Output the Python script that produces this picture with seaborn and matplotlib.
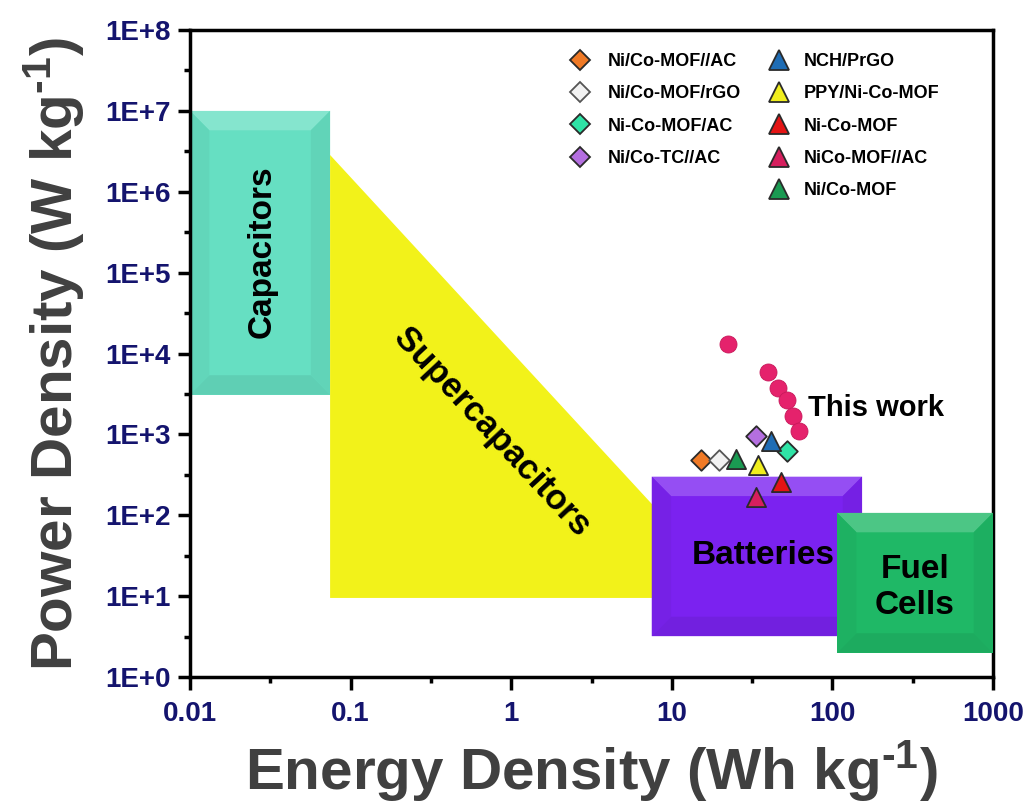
import numpy as np
import pandas as pd
import matplotlib.pyplot as plt
import seaborn as sns
from matplotlib.lines import Line2D
from matplotlib.ticker import FixedLocator, NullFormatter
from matplotlib.colors import to_rgb

# Regions on the Ragone plot (energy in Wh/kg, power in W/kg)
cap_x = [0.01, 0.0745]
cap_y = [3.1e3, 1.0e7]
sc_x = [0.0745, 26.0, 0.0745]
sc_y = [2.85e6, 9.5, 9.5]
bat_x = [7.5, 153.0]
bat_y = [3.2, 300.0]
fc_x = [107.0, 1000.0]
fc_y = [2.0, 107.0]

# Reference devices
ref_names = ['Ni/Co-MOF//AC', 'Ni/Co-MOF/rGO', 'Ni-Co-MOF/AC', 'Ni/Co-TC//AC',
             'NCH/PrGO', 'PPY/Ni-Co-MOF', 'Ni-Co-MOF', 'NiCo-MOF//AC', 'Ni/Co-MOF']
ref_energy = [15.1, 19.7, 51.9, 33.3, 41.5, 34.3, 47.6, 33.4, 25.0]
ref_power = [484, 484, 625, 957, 838, 420, 259, 170, 498]
ref_markers = ['D', 'D', 'D', 'D', '^', '^', '^', '^', '^']
ref_colors = ['#f07a26', '#f2f2f2', '#2fe3a6', '#b46fe0',
              '#1f6db5', '#f0ee1e', '#e41414', '#d61f5e', '#1a9a52']

# This work
work_energy = [22.5, 39.9, 46.0, 51.9, 57.1, 61.9]
work_power = [13150, 5870, 3790, 2670, 1710, 1115]

sns.set_style('white')
plt.rcParams['font.family'] = ['Liberation Sans', 'DejaVu Sans']
plt.rcParams['font.weight'] = 'bold'
plt.rcParams['text.color'] = 'black'
plt.rcParams['mathtext.fontset'] = 'custom'
plt.rcParams['mathtext.bf'] = 'Liberation Sans:bold'
plt.rcParams['mathtext.rm'] = 'Liberation Sans:bold'
plt.rcParams['mathtext.default'] = 'bf'


def mix(c, other, t):
    a = np.array(to_rgb(c))
    b = np.array(to_rgb(other))
    return tuple(a * (1 - t) + b * t)


def bevel_box(ax, xs, ys, color, z):
    x0, x1 = xs
    y0, y1 = ys
    ax.fill([x0, x1, x1, x0], [y0, y0, y1, y1], color=color, lw=0, zorder=z)
    bx, by = 10 ** 0.12, 10 ** 0.24
    ix0, ix1, iy0, iy1 = x0 * bx, x1 / bx, y0 * by, y1 / by
    ax.fill([x0, x1, ix1, ix0], [y1, y1, iy1, iy1], color=mix(color, 'white', 0.2), lw=0, zorder=z)
    ax.fill([x0, x1, ix1, ix0], [y0, y0, iy0, iy0], color=mix(color, 'black', 0.07), lw=0, zorder=z)
    ax.fill([x0, ix0, ix0, x0], [y0, iy0, iy1, y1], color=mix(color, 'black', 0.04), lw=0, zorder=z)
    ax.fill([x1, ix1, ix1, x1], [y0, iy0, iy1, y1], color=mix(color, 'black', 0.05), lw=0, zorder=z)


fig = plt.figure(figsize=(10.3, 8.01), dpi=100)
ax = fig.add_axes([0.1845, 0.1548, 0.7796, 0.8077])
ax.set_xscale('log')
ax.set_yscale('log')

bevel_box(ax, cap_x, cap_y, '#66dfc2', 1)
ax.fill(sc_x, sc_y, color='#f2f21a', lw=0, zorder=1)
bevel_box(ax, bat_x, bat_y, '#7b22f0', 2)
bevel_box(ax, fc_x, fc_y, '#1fb866', 3)

ax.text(0.0281, 1.8e5, 'Capacitors', rotation=90, ha='center', va='center',
        fontsize=24, fontweight='bold', color='black', zorder=5)
ax.text(0.76, 1075, 'Supercapacitors', rotation=-47, ha='center', va='center',
        fontsize=25, fontweight='bold', color='black', zorder=5, rotation_mode='anchor')
ax.text(37, 31.6, 'Batteries', ha='center', va='center', fontsize=24,
        fontweight='bold', color='black', zorder=5)
ax.text(327, 12.7, 'Fuel\nCells', ha='center', va='center', fontsize=24,
        fontweight='bold', color='black', zorder=5, linespacing=1.2)
ax.text(70.5, 2130, 'This work', ha='left', va='center', fontsize=21,
        fontweight='bold', color='black', zorder=5)

refs = pd.DataFrame({'energy': ref_energy, 'power': ref_power, 'name': ref_names})
for i, row in refs.iterrows():
    m = ref_markers[i]
    sns.scatterplot(x=[row['energy']], y=[row['power']], ax=ax, marker=m,
                    s=190 if m == '^' else 110, color=ref_colors[i],
                    edgecolor='#2a2a2a' if i != 1 else '#555555', linewidth=1.3,
                    zorder=6, legend=False)

work = pd.DataFrame({'energy': work_energy, 'power': work_power})
sns.scatterplot(data=work, x='energy', y='power', ax=ax, marker='o', s=150,
                color='#e5226c', edgecolor='#c8185a', linewidth=0.6, zorder=7,
                legend=False)

ax.set_xlim(0.01, 1000)
ax.set_ylim(1, 1e8)
ax.xaxis.set_major_locator(FixedLocator([10.0 ** k for k in range(-2, 4)]))
ax.xaxis.set_minor_locator(FixedLocator([10.0 ** (k + 0.5) for k in range(-2, 3)]))
ax.yaxis.set_major_locator(FixedLocator([10.0 ** k for k in range(0, 9)]))
ax.yaxis.set_minor_locator(FixedLocator([10.0 ** (k + 0.5) for k in range(0, 8)]))
ax.xaxis.set_minor_formatter(NullFormatter())
ax.yaxis.set_minor_formatter(NullFormatter())
ax.set_xticklabels(['0.01', '0.1', '1', '10', '100', '1000'])
ax.set_yticklabels(['1E+%d' % k for k in range(0, 9)])

ax.tick_params(which='both', direction='out', width=2.5, colors='black',
               top=False, right=False, left=True, bottom=True)
ax.tick_params(which='major', length=9, labelsize=20, labelcolor='#14146e')
ax.tick_params(axis='x', which='major', pad=8)
ax.tick_params(axis='y', which='major', pad=5)
ax.tick_params(which='minor', length=4)
for lab in ax.get_xticklabels() + ax.get_yticklabels():
    lab.set_fontweight('bold')
for sp in ax.spines.values():
    sp.set_linewidth(2.5)
    sp.set_color('black')
    sp.set_visible(True)

ax.set_xlabel(r'Energy Density (Wh kg$^{\text{-1}}$)', fontsize=42, fontweight='bold',
              color='#404040', labelpad=8)
ax.set_ylabel(r'Power Density (W kg$^{\text{-1}}$)', fontsize=42, fontweight='bold',
              color='#404040', labelpad=14)

# Legends: diamonds column and triangles column
def handle(i, ms):
    return Line2D([], [], ls='none', marker=ref_markers[i], ms=ms,
                  markerfacecolor=ref_colors[i],
                  markeredgecolor='#2a2a2a' if i != 1 else '#555555', markeredgewidth=1.3)

h1 = [handle(i, 10.5) for i in range(4)]
h2 = [handle(i, 15) for i in range(4, 9)]
leg1 = fig.legend(h1, ref_names[:4], loc='upper left', bbox_to_anchor=(0.5524, 0.934),
                  frameon=False, handlelength=1.2, handletextpad=0.95,
                  labelspacing=0.85, borderpad=0, borderaxespad=0,
                  prop={'weight': 'bold', 'size': 13})
leg2 = fig.legend(h2, ref_names[4:], loc='upper left', bbox_to_anchor=(0.7458, 0.934),
                  frameon=False, handlelength=1.2, handletextpad=0.75,
                  labelspacing=0.85, borderpad=0, borderaxespad=0,
                  prop={'weight': 'bold', 'size': 13})
for leg in (leg1, leg2):
    for t in leg.get_texts():
        t.set_color('black')

fig.savefig('out.png', dpi=100)
